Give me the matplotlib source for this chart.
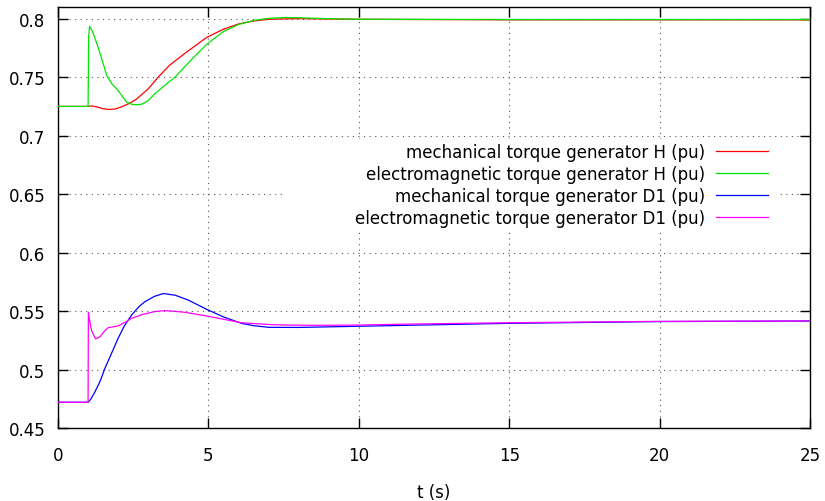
"""Torque response of generators H and D1 after a step at t = 1 s."""

import matplotlib

matplotlib.use("Agg")
import matplotlib.pyplot as plt
from matplotlib.patches import Rectangle

# --- values --------------------------------------------------------------
t_mech_h = [0, 1.0, 1.1, 1.3, 1.5, 1.67, 1.9, 2.1, 2.34, 2.6, 3.0, 3.33, 3.7,
            4.2, 4.94, 5.5, 6.0, 6.5, 7.0, 7.5, 8, 10, 15, 20, 25]
mech_h = [0.725, 0.725, 0.7255, 0.7245, 0.723, 0.7224, 0.7228, 0.7245, 0.7272,
          0.731, 0.740, 0.750, 0.760, 0.770, 0.784, 0.791, 0.7955, 0.798,
          0.7995, 0.7998, 0.8, 0.7995, 0.799, 0.799, 0.799]

t_elec_h = [0, 1.0, 1.02, 1.05, 1.15, 1.3, 1.45, 1.62, 1.8, 1.95, 2.1, 2.28,
            2.45, 2.62, 2.8, 3.0, 3.22, 3.5, 3.89, 4.4, 4.94, 5.5, 6.0, 6.5,
            7.0, 7.5, 8, 9, 10, 15, 20, 25]
elec_h = [0.725, 0.725, 0.785, 0.7935, 0.789, 0.778, 0.766, 0.7514, 0.744,
          0.740, 0.735, 0.7287, 0.7268, 0.7264, 0.727, 0.730, 0.7358, 0.742,
          0.750, 0.764, 0.778, 0.789, 0.795, 0.7985, 0.8003, 0.801, 0.8008,
          0.8, 0.7995, 0.7993, 0.7993, 0.7993]

t_mech_d1 = [0, 1.0, 1.1, 1.23, 1.4, 1.56, 1.8, 2.0, 2.2, 2.45, 2.7, 2.89, 3.2,
             3.5, 3.9, 4.33, 4.94, 5.5, 6.1, 6.5, 7.0, 8.0, 9, 10, 12, 15, 20,
             25]
mech_d1 = [0.472, 0.472, 0.475, 0.481, 0.490, 0.501, 0.515, 0.5268, 0.537,
           0.5467, 0.554, 0.558, 0.5625, 0.565, 0.5635, 0.5594, 0.5515, 0.545,
           0.5395, 0.5375, 0.5361, 0.536, 0.5365, 0.537, 0.538, 0.5395, 0.541,
           0.5415]

t_elec_d1 = [0, 1.0, 1.01, 1.05, 1.12, 1.25, 1.4, 1.55, 1.67, 2.0, 2.2, 2.45,
             2.8, 3.2, 3.56, 4.2, 4.94, 5.5, 6.1, 7.0, 7.65, 8.5, 9.87, 12, 15,
             20, 25]
elec_d1 = [0.472, 0.472, 0.549, 0.542, 0.533, 0.5262, 0.528, 0.533, 0.5358,
           0.5373, 0.540, 0.5438, 0.547, 0.5495, 0.5504, 0.549, 0.5458, 0.543,
           0.540, 0.5385, 0.538, 0.5378, 0.538, 0.539, 0.540, 0.5412, 0.5415]

series = [
    (t_mech_h, mech_h, "#ff0000", "mechanical torque generator H (pu)"),
    (t_elec_h, elec_h, "#00e600", "electromagnetic torque generator H (pu)"),
    (t_mech_d1, mech_d1, "#0000ff", "mechanical torque generator D1 (pu)"),
    (t_elec_d1, elec_d1, "#ff00ff", "electromagnetic torque generator D1 (pu)"),
]

x_ticks = [0, 5, 10, 15, 20, 25]
y_ticks = [0.45, 0.5, 0.55, 0.6, 0.65, 0.7, 0.75, 0.8]

# --- figure ----------------------------------------------------------------
plt.rcParams["font.family"] = ["DejaVu Sans"]
plt.rcParams["font.size"] = 12

fig = plt.figure(figsize=(8.25, 5.02), dpi=100)
ax = fig.add_axes([58 / 825, 1 - 429 / 502, 752 / 825, 421 / 502])

for t, v, col, lab in series:
    ax.plot(t, v, color=col, lw=0.9, label=lab, zorder=3)

ax.set_xlim(0, 25)
ax.set_ylim(0.45, 0.81)
ax.set_xticks(x_ticks)
ax.set_yticks(y_ticks)
ax.set_xticklabels([str(x) for x in x_ticks])
ax.set_yticklabels([f"{y:g}" for y in y_ticks])
ax.tick_params(direction="in", length=7, width=1, top=True, right=True,
               colors="black")
ax.tick_params(axis="x", pad=13)
ax.tick_params(axis="y", pad=9)
for s in ax.spines.values():
    s.set_linewidth(1)

ax.set_axisbelow(True)
ax.grid(True, color="#555555", linestyle=(0, (1, 4)), lw=0.8)
ax.set_xlabel("t (s)", labelpad=14)

# white block behind the key, hides the grid like gnuplot's opaque key
ax.add_patch(Rectangle((0.302, 0.468), 0.655, 0.218, transform=ax.transAxes,
                       facecolor="white", edgecolor="none", zorder=1.5))

ax.legend(loc="upper right", bbox_to_anchor=(0.944, 0.677), frameon=False,
          markerfirst=False, borderaxespad=0, borderpad=0, handlelength=3.1,
          handletextpad=0.65, labelspacing=0.24, fontsize=12)

fig.savefig("out.png", dpi=100)
